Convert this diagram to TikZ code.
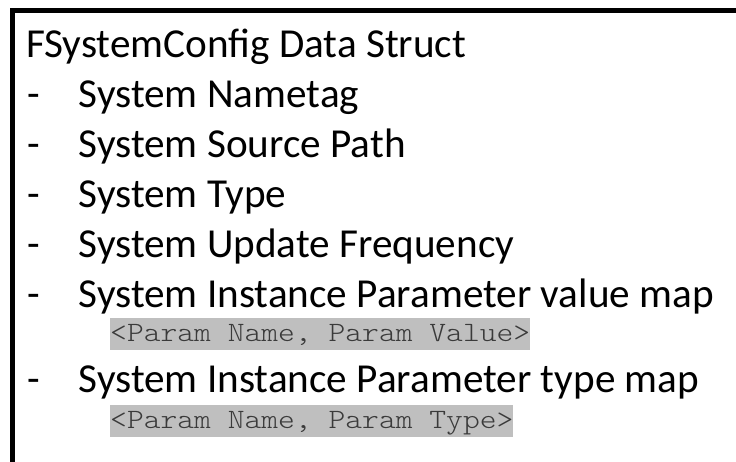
\documentclass[tikz,border=0pt]{standalone}
\usepackage{fontspec}
\setmainfont{Carlito}
\newfontfamily\monof[FakeStretch=1.143]{Latin Modern Mono Light}
\definecolor{hl}{HTML}{BFBFBF}
\definecolor{monotext}{HTML}{3A3A3A}
\begin{document}
\begin{tikzpicture}[x=1pt,y=-1pt,
  txt/.style={anchor=base west, inner sep=0pt, font=\fontsize{41.2}{48}\selectfont},
  mono/.style={anchor=base west, inner sep=0pt, fill=hl, text=monotext,
    font=\monof\fontsize{28}{32}\selectfont, text height=23.3pt, text depth=8.4pt},
  frame/.style={draw=black, line width=5pt}]
\fill[white] (0,0) rectangle (736,461);
\useasboundingbox (0,0) rectangle (736,461);
\begin{scope}
\clip (0,0) rectangle (736,461);
\draw[frame] (12,10) rectangle (780,500);
\end{scope}
\node[txt] (title) at (26,57) {FSystemConfig Data Struct};
\node[txt] (d1) at (27.5,107) {-};
\node[txt] (i1) at (78.5,107) {System Nametag};
\node[txt] (d2) at (27.5,157) {-};
\node[txt] (i2) at (78.5,157) {System Source Path};
\node[txt] (d3) at (27.5,207) {-};
\node[txt] (i3) at (78.5,207) {System Type};
\node[txt] (d4) at (27.5,257) {-};
\node[txt] (i4) at (78.5,257) {System Update Frequency};
\node[txt] (d5) at (27.5,307) {-};
\node[txt] (i5) at (78.5,307) {System Instance Parameter value map};
\node[mono] (m5) at (110,341.6) {<Param Name, Param Value>};
\node[txt] (d6) at (27.5,392) {-};
\node[txt] (i6) at (78.5,392) {System Instance Parameter type map};
\node[mono] (m6) at (110,428.6) {<Param Name, Param Type>};
\end{tikzpicture}
\end{document}
